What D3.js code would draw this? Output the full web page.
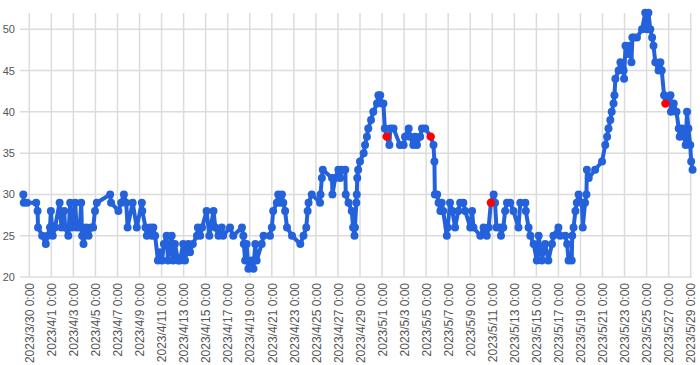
<!DOCTYPE html>
<html>
<head>
<meta charset="utf-8">
<script src="https://cdn.jsdelivr.net/npm/d3@7"></script>
<style>
  body { margin: 0; background: #fff; }
  text { font-family: "Liberation Sans", Arial, sans-serif; }
</style>
</head>
<body>
<div id="chart"></div>
<script>
// readings, year 2023
const times = [
  '3/29 11:00', '3/29 12:00', '3/29 19:00', '3/30 15:00', '3/30 18:00', '3/30 19:00', '3/31 4:00', '3/31 12:00',
  '3/31 16:00', '3/31 21:00', '3/31 23:00', '4/1 3:00', '4/1 8:00', '4/1 18:00', '4/1 22:00', '4/2 4:00',
  '4/2 6:00', '4/2 13:00', '4/2 17:00', '4/2 21:00', '4/3 4:00', '4/3 7:00', '4/3 14:00', '4/3 17:00',
  '4/3 19:00', '4/3 22:00', '4/4 4:00', '4/4 9:00', '4/4 14:00', '4/4 19:00', '4/4 23:00', '4/5 3:00',
  '4/6 8:00', '4/6 10:00', '4/7 2:00', '4/7 8:00', '4/7 14:00', '4/7 19:00', '4/7 22:00', '4/8 9:00',
  '4/8 18:00', '4/9 5:00', '4/9 6:00', '4/9 13:00', '4/9 16:00', '4/9 23:00', '4/10 3:00', '4/10 6:00',
  '4/10 10:00', '4/10 16:00', '4/10 20:00', '4/11 1:00', '4/11 5:00', '4/11 11:00', '4/11 14:00', '4/11 22:00',
  '4/12 1:00', '4/12 5:00', '4/12 12:00', '4/12 16:00', '4/12 23:00', '4/13 3:00', '4/13 10:00', '4/13 14:00',
  '4/13 20:00', '4/14 5:00', '4/14 7:00', '4/14 12:00', '4/14 16:00', '4/15 2:00', '4/15 8:00', '4/15 17:00',
  '4/15 21:00', '4/16 4:00', '4/16 11:00', '4/16 14:00', '4/17 5:00', '4/17 12:00', '4/18 7:00', '4/18 10:00',
  '4/18 11:00', '4/18 14:00', '4/18 17:00', '4/18 21:00', '4/19 4:00', '4/19 8:00', '4/19 12:00', '4/19 15:00',
  '4/20 2:00', '4/20 6:00', '4/20 20:00', '4/21 0:00', '4/21 3:00', '4/21 11:00', '4/21 14:00', '4/21 18:00',
  '4/21 22:00', '4/22 1:00', '4/22 5:00', '4/22 9:00', '4/22 20:00', '4/23 14:00', '4/23 21:00', '4/24 3:00',
  '4/24 6:00', '4/24 8:00', '4/24 15:00', '4/25 9:00', '4/25 10:00', '4/25 13:00', '4/25 15:00', '4/26 11:00',
  '4/26 12:00', '4/26 18:00', '4/27 1:00', '4/27 5:00', '4/27 8:00', '4/27 16:00', '4/27 17:00', '4/27 23:00',
  '4/28 6:00', '4/28 9:00', '4/28 12:00', '4/28 13:00', '4/28 16:00', '4/28 17:00', '4/28 18:00', '4/28 20:00',
  '4/29 0:00', '4/29 8:00', '4/29 11:00', '4/29 15:00', '4/29 18:00', '4/30 0:00', '4/30 5:00', '4/30 13:00',
  '4/30 16:00', '4/30 20:00', '4/30 23:00', '5/1 3:00', '5/1 6:00', '5/1 10:00', '5/1 16:00', '5/1 18:00',
  '5/2 1:00', '5/2 15:00', '5/2 23:00', '5/3 2:00', '5/3 10:00', '5/3 13:00', '5/3 20:00', '5/4 0:00',
  '5/4 4:00', '5/4 11:00', '5/4 15:00', '5/4 22:00', '5/5 10:00', '5/5 16:00', '5/5 18:00', '5/5 19:00',
  '5/6 0:00', '5/6 3:00', '5/6 7:00', '5/6 10:00', '5/6 13:00', '5/6 21:00', '5/6 23:00', '5/7 4:00',
  '5/7 9:00', '5/7 15:00', '5/7 22:00', '5/8 2:00', '5/8 9:00', '5/8 13:00', '5/9 0:00', '5/9 4:00',
  '5/9 7:00', '5/9 22:00', '5/10 5:00', '5/10 12:00', '5/10 16:00', '5/10 21:00', '5/11 3:00', '5/11 6:00',
  '5/11 9:00', '5/11 17:00', '5/11 19:00', '5/12 0:00', '5/12 4:00', '5/12 8:00', '5/12 15:00', '5/12 22:00',
  '5/13 9:00', '5/13 13:00', '5/14 0:00', '5/14 1:00', '5/14 7:00', '5/14 11:00', '5/14 18:00', '5/15 1:00',
  '5/15 5:00', '5/15 12:00', '5/15 19:00', '5/16 2:00', '5/16 10:00', '5/16 13:00', '5/17 0:00', '5/17 4:00',
  '5/17 15:00', '5/17 19:00', '5/17 22:00', '5/18 5:00', '5/18 6:00', '5/18 9:00', '5/18 13:00', '5/18 16:00',
  '5/18 20:00', '5/19 3:00', '5/19 5:00', '5/19 10:00', '5/19 13:00', '5/19 14:00', '5/19 18:00', '5/20 8:00',
  '5/20 23:00', '5/21 6:00', '5/21 10:00', '5/21 13:00', '5/21 17:00', '5/21 20:00', '5/22 0:00', '5/22 2:00',
  '5/22 4:00', '5/22 11:00', '5/22 15:00', '5/22 22:00', '5/22 23:00', '5/23 2:00', '5/23 9:00', '5/23 12:00',
  '5/23 15:00', '5/23 17:00', '5/23 20:00', '5/24 3:00', '5/24 14:00', '5/24 21:00', '5/25 1:00', '5/25 4:00',
  '5/25 8:00', '5/25 12:00', '5/25 15:00', '5/25 19:00', '5/26 2:00', '5/26 6:00', '5/26 9:00', '5/26 14:00',
  '5/26 17:00', '5/27 4:00', '5/27 5:00', '5/27 11:00', '5/27 17:00', '5/27 22:00', '5/28 0:00', '5/28 5:00',
  '5/28 10:00', '5/28 13:00', '5/28 16:00', '5/28 19:00', '5/28 23:00', '5/29 1:00', '5/29 4:00'
]
const values = [
  30, 29, 29, 29, 28, 26, 25, 24,
  25, 26, 28, 25, 26, 29, 26, 28,
  26, 25, 29, 26, 29, 26, 26, 29,
  25, 24, 26, 25, 26, 26, 28, 29,
  30, 29, 28, 29, 30, 29, 26, 29,
  26, 29, 28, 26, 25, 26, 25, 26,
  25, 22, 23, 22, 24, 25, 22, 25,
  22, 24, 22, 22, 24, 22, 24, 23,
  24, 25, 26, 25, 26, 28, 25, 28,
  26, 25, 26, 25, 26, 25, 26, 25,
  24, 22, 24, 21, 22, 21, 24, 22,
  24, 25, 25, 26, 28, 29, 30, 29,
  30, 29, 28, 26, 25, 24, 25, 26,
  28, 29, 30, 29, 30, 32, 33, 32,
  30, 32, 33, 32, 33, 33, 30, 29,
  28, 26, 25, 26, 29, 30, 32, 33,
  34, 35, 36, 37, 38, 39, 40, 41,
  42, 42, 41, 41, 38, 37, 36, 38,
  38, 36, 36, 37, 38, 37, 36, 37,
  36, 37, 38, 38, 37, 36, 34, 30,
  30, 29, 28, 29, 28, 25, 26, 29,
  28, 26, 28, 29, 29, 28, 26, 28,
  26, 25, 26, 25, 26, 29, 30, 29,
  26, 26, 25, 26, 28, 29, 29, 28,
  26, 29, 29, 28, 26, 25, 24, 22,
  25, 22, 24, 22, 24, 25, 26, 25,
  25, 24, 22, 22, 25, 26, 28, 29,
  30, 29, 26, 29, 30, 33, 32, 33,
  34, 36, 37, 38, 39, 40, 41, 42,
  44, 45, 46, 45, 44, 48, 47, 48,
  46, 49, 49, 49, 50, 52, 50, 52,
  50, 49, 48, 46, 45, 46, 45, 42,
  41, 42, 40, 41, 40, 38, 37, 38,
  37, 36, 40, 38, 36, 34, 33
]
// points drawn in red
const markedTimes = ['5/1 10:00', '5/5 10:00', '5/10 21:00', '5/26 17:00']

const yTicks = [20, 25, 30, 35, 40, 45, 50]
const tickStart = '3/30 0:00'
const tickEnd = '5/29 0:00'

const width = 700
const height = 365
const margin = { top: 13, left: 20, right: 8, bottom: 88 }
const blue = '#2462dc'
const gridColor = '#dcdcdc'

const parse = d3.timeParse('%Y/%m/%d %H:%M')
const toDate = s => parse('2023/' + s)
const data = times.map((t, i) => ({ date: toDate(t), value: values[i] }))
const marked = new Set(markedTimes.map(t => +toDate(t)))

const x = d3.scaleTime()
  .domain([toDate(tickStart), toDate(tickEnd)])
  .range([29.3, 690.7])
const y = d3.scaleLinear()
  .domain([20, 50])
  .range([height - margin.bottom, 29.3])

const svg = d3.select('#chart')
  .append('svg')
  .attr('width', width)
  .attr('height', height)

const xTicks = d3.timeDay.range(toDate(tickStart), d3.timeDay.offset(toDate(tickEnd), 1), 2)

// grid
svg.append('g')
  .selectAll('line')
  .data(yTicks)
  .enter()
  .append('line')
  .attr('x1', margin.left)
  .attr('x2', width - margin.right)
  .attr('y1', d => y(d))
  .attr('y2', d => y(d))
  .attr('stroke', gridColor)
  .attr('stroke-width', 1.5)
svg.append('g')
  .selectAll('line')
  .data(xTicks)
  .enter()
  .append('line')
  .attr('x1', d => x(d))
  .attr('x2', d => x(d))
  .attr('y1', margin.top)
  .attr('y2', y(20))
  .attr('stroke', gridColor)
  .attr('stroke-width', 1.5)

// axes, labels only
let yAxis = svg.append('g')
  .attr('transform', `translate(${margin.left - 1}, 0)`)
  .call(d3.axisLeft(y).tickValues(yTicks).tickSize(0).tickPadding(4))
yAxis.select('.domain').remove()
yAxis.selectAll('text')
  .attr('fill', '#555')
  .style('font-size', '11px')

let xAxis = svg.append('g')
  .attr('transform', `translate(0, ${y(20)})`)
  .call(d3.axisBottom(x).tickValues(xTicks).tickFormat(d3.timeFormat('%Y/%-m/%-d %-H:%M')).tickSize(0))
xAxis.select('.domain').remove()
xAxis.selectAll('text')
  .attr('fill', '#555')
  .style('font-size', '12px')
  .attr('transform', 'rotate(-90)')
  .attr('text-anchor', 'end')
  .attr('x', -6)
  .attr('y', 0)
  .attr('dy', '0.35em')

// series
const line = d3.line()
  .x(d => x(d.date))
  .y(d => y(d.value))
svg.append('path')
  .datum(data)
  .attr('d', line)
  .attr('fill', 'none')
  .attr('stroke', blue)
  .attr('stroke-width', 4)
  .attr('stroke-linejoin', 'round')
svg.append('g')
  .selectAll('circle')
  .data(data)
  .enter()
  .append('circle')
  .attr('cx', d => x(d.date))
  .attr('cy', d => y(d.value))
  .attr('r', d => marked.has(+d.date) ? 4.2 : 4)
  .attr('fill', d => marked.has(+d.date) ? '#ff0000' : blue)
  .sort((a, b) => marked.has(+a.date) - marked.has(+b.date))
</script>
</body>
</html>
